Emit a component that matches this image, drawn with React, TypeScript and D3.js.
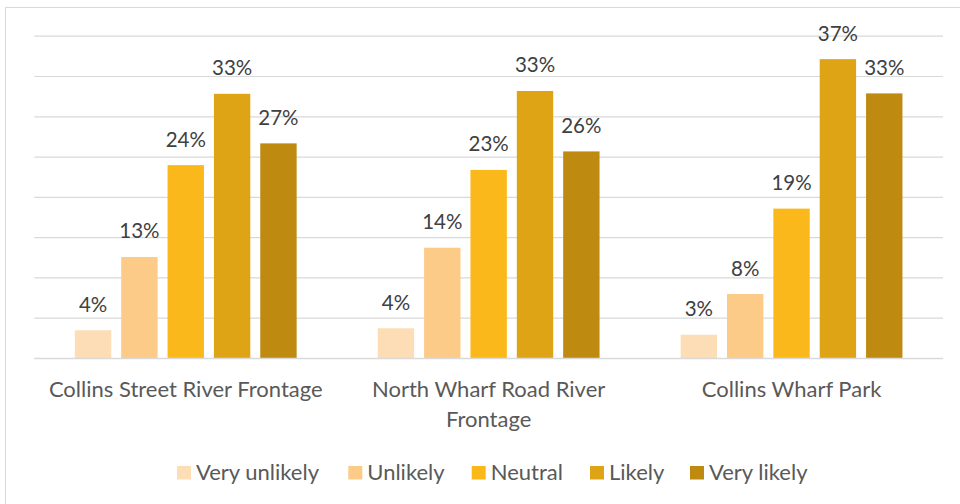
import React from "react";
import * as d3 from "d3";

const categories = ["Collins Street River Frontage", "North Wharf Road River Frontage", "Collins Wharf Park"];
const categoryLines = [["Collins Street River Frontage"], ["North Wharf Road River", "Frontage"], ["Collins Wharf Park"]];
const seriesNames = ["Very unlikely", "Unlikely", "Neutral", "Likely", "Very likely"];
const veryUnlikely = [3.5, 3.75, 2.95];
const unlikely = [12.6, 13.75, 8.0];
const neutral = [24.0, 23.4, 18.6];
const likely = [32.85, 33.2, 37.15];
const veryLikely = [26.7, 25.7, 32.9];
const yTicks = [0, 5, 10, 15, 20, 25, 30, 35, 40];
const colors = ["#FDDDB5", "#FCCB88", "#FBB81B", "#DFA416", "#BF8A10"];

const seriesValues = [veryUnlikely, unlikely, neutral, likely, veryLikely];

const W = 960;
const H = 504;
const FONT = "Lato, 'Open Sans', sans-serif";

export default function App() {
  const x0 = d3.scaleBand<string>().domain(categories).range([34.3, 943]).padding(0);
  const x1 = d3
    .scaleBand<string>()
    .domain(seriesNames)
    .range([0, x0.bandwidth()])
    .paddingInner(0.215)
    .paddingOuter(0.875);
  const y = d3.scaleLinear().domain([0, 40]).range([358.5, 36.2]);

  const legendX = [177, 348.3, 471.7, 590, 690];

  return (
    <svg width={W} height={H} style={{ position: "absolute", left: 0, top: 0, display: "block" }}>
      <rect x={0} y={0} width={W} height={H} fill="#ffffff" />
      <rect x={5.5} y={7.5} width={W + 10} height={H + 10} fill="none" stroke="#D9D9D9" strokeWidth={1} />
      {yTicks.map((t) => (
        <line
          key={t}
          x1={34.3}
          x2={943}
          y1={y(t)}
          y2={y(t)}
          stroke="#D9D9D9"
          strokeWidth={1.2}
        />
      ))}
      {categories.map((c, ci) => (
        <g key={c} transform={`translate(${x0(c)},0)`}>
          {seriesNames.map((s, si) => {
            const v = seriesValues[si][ci];
            const bx = x1(s)!;
            return (
              <g key={s}>
                <rect x={bx} y={y(v)} width={x1.bandwidth()} height={y(0) - y(v)} fill={colors[si]} />
                <text
                  x={bx + x1.bandwidth() / 2}
                  y={y(v) - 18.5}
                  textAnchor="middle"
                  fontFamily={FONT}
                  fontSize={20.5}
                  fill="#404040"
                >
                  {`${Math.round(v)}%`}
                </text>
              </g>
            );
          })}
        </g>
      ))}
      <line x1={34.3} x2={943} y1={y(0)} y2={y(0)} stroke="#D9D9D9" strokeWidth={1.5} />
      {categories.map((c, ci) => (
        <text
          key={c}
          x={x0(c)! + x0.bandwidth() / 2}
          y={396.5}
          textAnchor="middle"
          fontFamily={FONT}
          fontSize={22}
          fill="#595959"
        >
          {categoryLines[ci].map((ln, li) => (
            <tspan key={li} x={x0(c)! + x0.bandwidth() / 2} dy={li === 0 ? 0 : 30}>
              {ln}
            </tspan>
          ))}
        </text>
      ))}
      {seriesNames.map((s, si) => (
        <g key={s} transform={`translate(${legendX[si]},0)`}>
          <rect x={0} y={466} width={14} height={13.5} fill={colors[si]} />
          <text x={19} y={479.5} fontFamily={FONT} fontSize={22} fill="#595959">
            {s}
          </text>
        </g>
      ))}
    </svg>
  );
}
